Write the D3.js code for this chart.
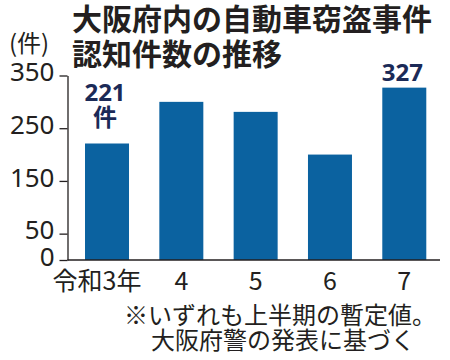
<!DOCTYPE html>
<html><head><meta charset="utf-8">
<script src="https://cdn.jsdelivr.net/npm/d3@7"></script>
<style>
html,body{margin:0;padding:0;background:#fff;}
svg{display:block;}
</style></head>
<body>
<script>
const categories = ["令和3年", "4", "5", "6", "7"];
const values = [221, 300, 281, 200, 327];
const yTicks = [0, 50, 150, 250, 350];
const titleLines = ["大阪府内の自動車窃盗事件", "認知件数の推移"];
const unitLabel = "(件)";
const noteLines = ["※いずれも上半期の暫定値。", "大阪府警の発表に基づく"];
const labelled = [{i: 0, lines: ["221", "件"]}, {i: 4, lines: ["327"]}];

const W = 450, H = 360;
const font = "'Noto Sans CJK JP', 'Noto Sans', sans-serif";
const numFont = "'Noto Sans', 'Noto Sans CJK JP', sans-serif";
const svg = d3.select("body").append("svg").attr("width", W).attr("height", H)
  .style("font-family", font);

const x = d3.scaleBand().domain(categories).range([69.85, 441.45])
  .paddingInner(0.408).paddingOuter(0.204);
const y = d3.scaleLinear().domain([0, 350]).range([260, 75.5]);

// title
svg.append("g").selectAll("text").data(titleLines).join("text")
  .attr("x", 72).attr("y", (d, i) => 30 + i * 35)
  .attr("font-size", 30).attr("font-weight", 700).attr("fill", "#231f20")
  .text(d => d);

svg.append("text").attr("x", 9).attr("y", 52).attr("font-size", 24)
  .attr("fill", "#231f20").text(unitLabel);

// bars
svg.append("g").selectAll("rect").data(values).join("rect")
  .attr("x", (d, i) => x(categories[i]))
  .attr("width", x.bandwidth())
  .attr("y", d => y(d))
  .attr("height", d => y(0) - y(d))
  .attr("fill", "#0b62a0");

// y axis
const yAxis = svg.append("g").attr("transform", "translate(67.5,0)")
  .call(d3.axisLeft(y).tickValues(yTicks).tickSize(8).tickPadding(5).tickSizeOuter(0));
yAxis.select(".domain").attr("stroke", "#231f20").attr("stroke-width", 1.3);
yAxis.selectAll(".tick line").attr("stroke", "#231f20").attr("stroke-width", 1.3);
yAxis.selectAll(".tick text").attr("font-size", 26).attr("font-family", numFont)
  .attr("fill", "#231f20").attr("dy", "0.2em");

// x axis
const xAxis = svg.append("g").attr("transform", "translate(0,260)")
  .call(d3.axisBottom(x).tickSize(0).tickPadding(12).tickSizeOuter(0));
xAxis.select(".domain").attr("stroke", "#231f20").attr("stroke-width", 1.3)
  .attr("d", "M67.5,0H440");
xAxis.selectAll(".tick text").attr("font-size", 25).attr("font-family", font)
  .attr("fill", "#231f20")
  .attr("dx", (d, i) => i === 0 ? -10 : 0);

// value labels
labelled.forEach(l => {
  const cx = x(categories[l.i]) + x.bandwidth() / 2;
  const top = y(values[l.i]);
  const n = l.lines.length;
  const lastBase = n > 1 ? top - 18 : top - 7;
  l.lines.forEach((t, j) => {
    svg.append("text").attr("x", cx - 2)
      .attr("y", lastBase - (n - 1 - j) * 25)
      .attr("text-anchor", "middle").attr("font-size", 24).attr("font-weight", 700)
      .attr("font-family", /^\d+$/.test(t) ? numFont : font)
      .attr("fill", "#1b2a57").text(t);
  });
});

// notes
svg.append("g").selectAll("text").data(noteLines).join("text")
  .attr("x", (d, i) => i === 0 ? 124 : 151)
  .attr("y", (d, i) => 324 + i * 25)
  .attr("font-size", 24).attr("fill", "#231f20")
  .text(d => d);
</script>
</body></html>
